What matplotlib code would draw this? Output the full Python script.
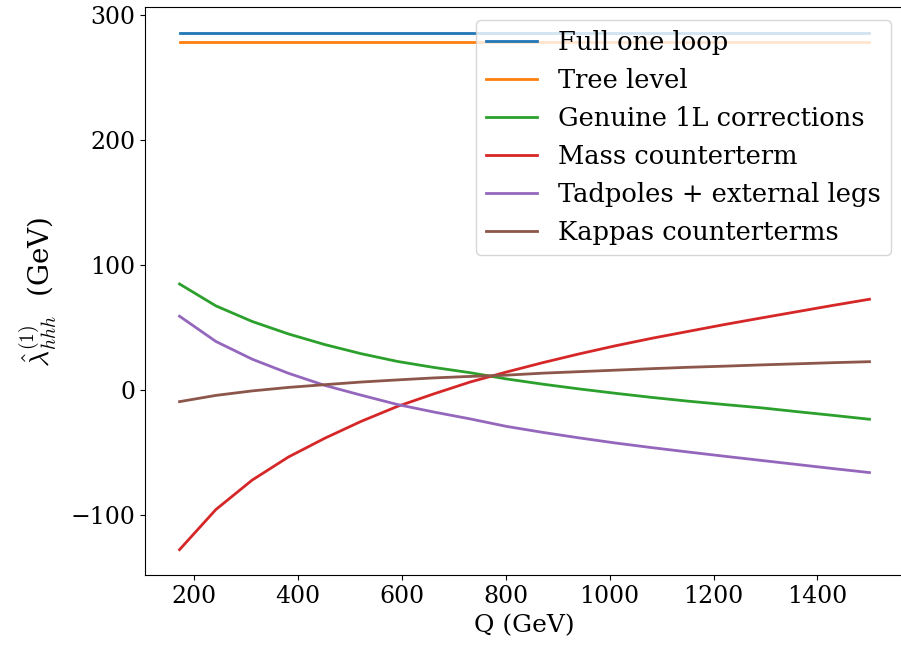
import numpy as np
import matplotlib
matplotlib.use("Agg")
import matplotlib.pyplot as plt

plt.rcParams["font.family"] = "DejaVu Serif"
plt.rcParams["mathtext.fontset"] = "cm"
plt.rcParams["font.size"] = 17

# Renormalisation scale Q (GeV)
Q = np.linspace(173, 1500, 20)

tree_level = np.full(20, 278.8)
genuine_1l = [85.0, 67.5, 55.0, 45.0, 36.5, 29.2, 23.0, 18.2, 14.0, 9.0,
              4.8, 1.0, -2.5, -5.8, -8.8, -11.5, -14.1, -17.2, -20.2, -23.3]
mass_ct = [-127.7, -95.6, -72.0, -53.5, -38.5, -25.0, -13.0, -3.0, 6.5, 14.5,
           22.0, 29.0, 35.5, 41.5, 47.0, 52.5, 57.7, 62.8, 67.9, 72.8]
tadpoles_legs = [59.2, 39.0, 24.8, 13.5, 3.8, -4.0, -11.5, -17.5, -23.0, -29.0,
                 -33.8, -38.2, -42.3, -46.0, -49.5, -52.9, -56.2, -59.5, -62.8, -66.0]
kappas_ct = [-9.2, -4.2, -0.6, 2.2, 4.4, 6.5, 8.2, 9.8, 11.0, 12.0,
             13.6, 14.8, 16.0, 17.2, 18.3, 19.2, 20.2, 21.1, 22.0, 22.8]
full_one_loop = np.full(20, 286.0)

fig, ax = plt.subplots(figsize=(9.01, 6.49), dpi=100)
ax.plot(Q, full_one_loop, lw=2, label="Full one loop")
ax.plot(Q, tree_level, lw=2, label="Tree level")
ax.plot(Q, genuine_1l, lw=2, label="Genuine 1L corrections")
ax.plot(Q, mass_ct, lw=2, label="Mass counterterm")
ax.plot(Q, tadpoles_legs, lw=2, label="Tadpoles + external legs")
ax.plot(Q, kappas_ct, lw=2, label="Kappas counterterms")

ax.set_xlabel("Q (GeV)", fontsize=18)
ax.set_ylabel(r"$\hat{\lambda}^{(1)}_{hhh}$  (GeV)", fontsize=20, labelpad=8)
ax.set_xticks([200, 400, 600, 800, 1000, 1200, 1400])
ax.set_yticks([-100, 0, 100, 200, 300])
ax.legend(loc="upper right", fontsize=18.5)

fig.subplots_adjust(left=0.161, right=1.0033, top=0.989, bottom=0.1133)
fig.savefig("out.png", dpi=100)
